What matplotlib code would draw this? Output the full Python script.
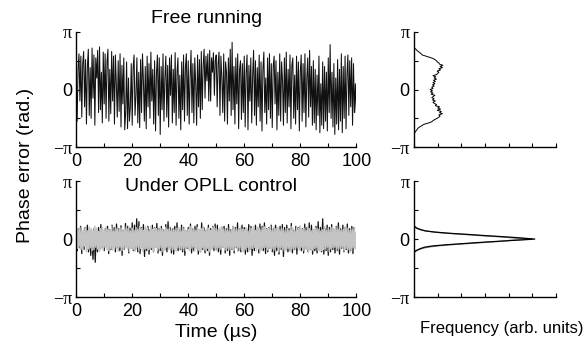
#!/usr/bin/env python3

import numpy as np
import matplotlib
matplotlib.use('Agg')
import matplotlib.pyplot as plt
from matplotlib.ticker import MultipleLocator, FixedLocator

plt.rcParams['font.family'] = ['Liberation Sans', 'DejaVu Sans']

# phase values in hundredths of pi
free_running = [
    -10, -55, 35, 62, -20, 58, -48, 45, 66, -30, 52, -60, 40, 70, -45,
    38, -50, 72, -15, 60, -62, 55, 20, 68, -40, 74, -35, 30, -58, 65,
    -25, 62, -50, 48, 70, -55, 35, -42, 66, -20, 58, -60, 60, 10, -48,
    50, -38, 62, -65, 42, -25, 55, -70, -40, 48, -68, 20, -55, -30, 45,
    -62, 38, 60, -45, -10, 55, -58, 30, -66, 52, -40, 62, 15, -55, 40,
    -68, 58, -30, 45, -50, 65, -20, 35, -60, 50, -72, 28, 60, -45, 55,
    -78, 40, -35, 62, -55, 20, 58, -48, 42, -65, 55, -10, 60, -58, 35,
    -40, 64, -62, 30, 55, -50, 25, -70, 48, -35, 60, -55, 38, 62, -45,
    50, -60, 20, 68, -40, 45, -58, 55, 10, -62, 60, -30, 52, -50, 66,
    -35, 42, 70, -15, 58, 15, 62, -20, 68, -20, 55, 30, 64, -10, 50,
    60, -30, 45, 65, -45, 58, 20, -40, 62, -55, 48, 30, -60, 55, -20,
    70, -45, 82, -35, 40, -60, 55, -25, 62, -68, 35, 50, -52, 45, -40,
    58, -65, 30, 60, -70, 42, -20, 55, -58, 25, 68, -45, 50, -62, 38,
    -30, 60, -55, 48, -72, 35, 65, -40, 20, -60, 55, -35, 62, -50, 45,
    -66, 40, 58, -25, 50, -70, 30, -45, 62, -55, 48, 15, -62, 55, -40,
    65, -58, 35, -30, 60, -68, 42, 55, -50, 25, -60, 58, -35, 48, -72,
    30, 60, -55, 45, -40, 62, -65, 20, 55, -48, 68, -30, 40, -62, 50,
    -58, 35, -70, 25, -45, 58, -75, 10, -62, 48, -68, 40, -55, 30, -72,
    55, -40, 78, -50, 30, -65, 45, -78, 20, -60, 52, -70, 35, -55, 62,
    -75, 40, -50, 58, -68, 25, 60, -45, 50, -30, 55, -62, 45, -40, 10,
    -40,
]

opll_black = [
    5, -20, 18, -15, 22, -25, 12, -18, 20, -10, 24, -22, 15, -28, 10, -35, 18, -40, 14, -22, 20, -18, 25, -15, 12,
    -20, 18, -12, 22, -25, 16, -18, 24, -10, 20, -22, 26, -15, 18, -20, 23, -28, 15, -18, 27, -12, 22, -24, 19, -16,
    28, -20, 24, -18, 35, -22, 30, -25, 20, -15, 25, -30, 18, -20, 22, -26, 16, -18, 24, -22, 20, -14, 27, -24, 18,
    -20, 22, -28, 16, -18, 25, -22, 30, -15, 20, -24, 18, -26, 22, -12, 28, -20, 16, -18, 24, -22, 20, -28, 14, -16,
    20, -18, 26, -24, 18, -20, 22, -15, 25, -26, 16, -22, 28, -18, 20, -24, 15, -20, 24, -28, 18, -16, 22, -20, 26,
    -18, 24, -22, 16, -26, 20, -14, 22, -24, 18, -20, 25, -28, 16, -18, 22, -24, 20, -15, 28, -20, 18, -22, 24, -16,
    20, -26, 18, -22, 25, -18, 22, -28, 16, -20, 24, -15, 20, -24, 26, -18, 22, -20, 28, -25, 18, -22, 20, -16, 24,
    -22, 18, -28, 24, -20, 16, -26, 22, -18, 25, -30, 20, -16, 24, -22, 18, -20, 27, -24, 15, -18, 22, -26, 20, -15,
    22, -20, 18, -24, 26, -16, 20, -22, 28, -18, 24, -26, 16, -20, 22, -24, 30, -18, 20, -22, 35, -26, 18, -20, 24,
    -28, 20, -22, 25, -18, 16, -24, 22, -20, 28, -26, 18, -16, 24, -22, 20, -18, 26, -24, 18, -20, 22, -25, 20, -15,
    10,
]

opll_gray = [
    10, -16, 18, -14, 20, -18, 15, -20, 17, -12, 19, -22, 14, -17, 21,
    -15, 18, -20, 16, -18, 22, -14, 19, -17, 13, -21, 18, -15, 20, -19,
    16, -14, 21, -18, 17, -20, 15, -16, 22, -19, 14, -18, 20, -15, 18,
    -21, 17, -14, 19, -20, 16, -18, 21, -15, 18, -17, 20, -22, 14, -16,
    19, -18, 15, -21, 20, -14, 17, -19, 22, -16, 18, -20, 15, -17, 21,
    -16, 20, -19, 14, -18, 22, -15, 17, -21, 19, -14, 18, -20, 16, -17,
    21, -15, 18, -22, 16, -19, 20, -14, 17, -18, 21, -16, 15, -20, 19,
    -18, 16, -21, 19, -15, 20, -17, 14, -19, 22, -16, 18, -20, 15, -14,
    17, -20, 22, -16, 19, -14, 18, -21, 15, -17, 20, -19, 16, -22, 18,
    -15, 21, -18, 14, -20, 17, -16, 19, -22, 15, -18, 20, -14, 21, -17,
    18, -21, 16, -15, 20, -18, 22, -14, 17, -19, 15, -20, 21, -16, 14,
    -19, 15, -17, 22, -20, 18, -14, 16, -21, 19, -15, 20, -18, 17, -22,
    16, -18, 20, -15, 14, -21, 19, -17, 18, -16, 22, -14, 15, -20, 21,
    -17, 19, -22, 16, -18, 20, -15, 21, -14, 17, -19, 18, -16, 22, -20,
    15, -17, 21, -19, 18, -14, 20, -22, 16, -15, 19, -18, 17, -21, 14,
    -20, 18, -16, 15, -21, 22, -17, 19, -18, 14, -16, 20, -15, 18, -19,
    22, -14, 17, -20, 19, -16, 15, -18, 21, -22, 18, -17, 14, -19, 16,
    -16, 20, -15, 18, -19, 17, -21, 14, -20, 16, -18, 22, -17, 15, -14,
    19, -22, 16, -17, 20, -15, 18, -14, 21, -19, 17, -16, 22, -18, 15,
    -14, 17, -20, 21, -16, 19, -18, 15, -22, 18, -20, 16, -15, 19, -17,
    10,
]

# histograms: phase (hundredths of pi) vs frequency (arb. units)
hist_free_phase = list(range(-76, 76, 2))
hist_free_freq = [
    0.0, 0.05, 0.08, 0.12, 0.15, 0.2, 0.28, 0.35, 0.45, 0.62, 0.75, 0.8, 0.88,
    0.98, 1.05, 1.1, 1.05, 1.2, 1.08, 1.15, 0.98, 1.12, 1.0, 1.08, 0.9, 0.95,
    0.85, 0.8, 0.9, 0.78, 0.85, 0.75, 0.82, 0.88, 0.72, 0.8, 0.7, 0.78, 0.68,
    0.8, 0.75, 0.85, 0.78, 0.88, 0.8, 0.9, 0.82, 0.95, 0.85, 0.92, 0.8, 0.95,
    1.0, 1.05, 0.98, 1.12, 1.05, 1.2, 1.1, 1.22, 1.08, 1.05, 0.98, 0.95, 0.88,
    0.8, 0.65, 0.5, 0.35, 0.3, 0.25, 0.18, 0.12, 0.08, 0.02, 0.0,
]
hist_opll_phase = list(range(-24, 26, 2))
hist_opll_black = [0.0, 0.02, 0.08, 0.18, 0.3, 0.45, 0.75, 1.3, 2.0, 2.7, 3.5, 4.3, 5.1,
                   4.5, 3.8, 3.0, 2.3, 1.5, 0.9, 0.5, 0.3, 0.15, 0.06, 0.01, 0.0]
hist_opll_gray = [0.0, 0.05, 0.12, 0.22, 0.35, 0.6, 0.95, 1.5, 2.2, 2.9, 3.6, 4.1, 5.0,
                  4.2, 3.6, 2.8, 2.1, 1.4, 0.85, 0.5, 0.3, 0.18, 0.1, 0.04, 0.0]

GRAY = '#c4c4c4'


def to_rad(v):
    return np.array(v) / 100.0 * np.pi


def style_axes(ax, time_axis):
    ax.spines['top'].set_visible(False)
    ax.spines['right'].set_visible(False)
    ax.spines['left'].set_linewidth(1.0)
    ax.spines['bottom'].set_linewidth(1.0)
    ax.set_ylim(-np.pi, np.pi)
    ax.set_yticks([-np.pi, 0, np.pi])
    ax.set_yticklabels(['\u2212\u03c0', '0', '\u03c0'])
    ax.yaxis.set_minor_locator(FixedLocator([-np.pi / 2, np.pi / 2]))
    ax.tick_params(which='both', direction='in', length=3, width=0.8,
                   labelsize=13, pad=3)
    if time_axis:
        ax.set_xlim(0, 100)
        ax.set_xticks(np.arange(0, 101, 20))
        ax.xaxis.set_minor_locator(MultipleLocator(10))
        ax.tick_params(axis='x', pad=4)
    else:
        ax.set_xlim(0, 6)
        ax.set_xticks(np.arange(0, 7, 1))
        ax.set_xticklabels([])
    for lab in ax.get_yticklabels():
        if '\u03c0' in lab.get_text():
            lab.set_fontsize(13)
            lab.set_family(['Liberation Serif'])


fig = plt.figure(figsize=(5.86, 3.47), dpi=100)
ax1 = fig.add_axes([0.130, 0.576, 0.478, 0.332])
ax2 = fig.add_axes([0.130, 0.144, 0.478, 0.334])
ax3 = fig.add_axes([0.7065, 0.576, 0.2425, 0.332])
ax4 = fig.add_axes([0.7065, 0.144, 0.2425, 0.334])

t_free = np.linspace(0, 100, len(free_running))
t_black = np.linspace(0, 100, len(opll_black))
t_gray = np.linspace(0, 100, len(opll_gray))

ax1.plot(t_free, to_rad(free_running), color='#111111', lw=0.75)
ax2.plot(t_black, to_rad(opll_black), color='#111111', lw=0.9)
ax2.plot(t_gray, to_rad(opll_gray), color=GRAY, lw=1.1)

ax3.plot(hist_free_freq, to_rad(hist_free_phase), color='black', lw=0.7)
ax4.plot(hist_opll_gray, to_rad(hist_opll_phase), color='#888888', lw=0.9)
ax4.plot(hist_opll_black, to_rad(hist_opll_phase), color='black', lw=0.9)

for ax in (ax1, ax2):
    style_axes(ax, True)
for ax in (ax3, ax4):
    style_axes(ax, False)

ax1.text(0.465, 1.04, 'Free running', transform=ax1.transAxes,
         ha='center', va='bottom', fontsize=14)
ax2.text(0.48, 0.88, 'Under OPLL control', transform=ax2.transAxes,
         ha='center', va='bottom', fontsize=14)
ax2.set_xlabel('Time (\u00b5s)', fontsize=14, labelpad=3)
fig.text(502 / 586, 1 - 329 / 347, 'Frequency (arb. units)', ha='center',
         va='center', fontsize=12)
fig.text(0.043, 1 - 165 / 347, 'Phase error (rad.)', rotation=90,
         ha='center', va='center', fontsize=14)

fig.savefig('out.png', dpi=100)
